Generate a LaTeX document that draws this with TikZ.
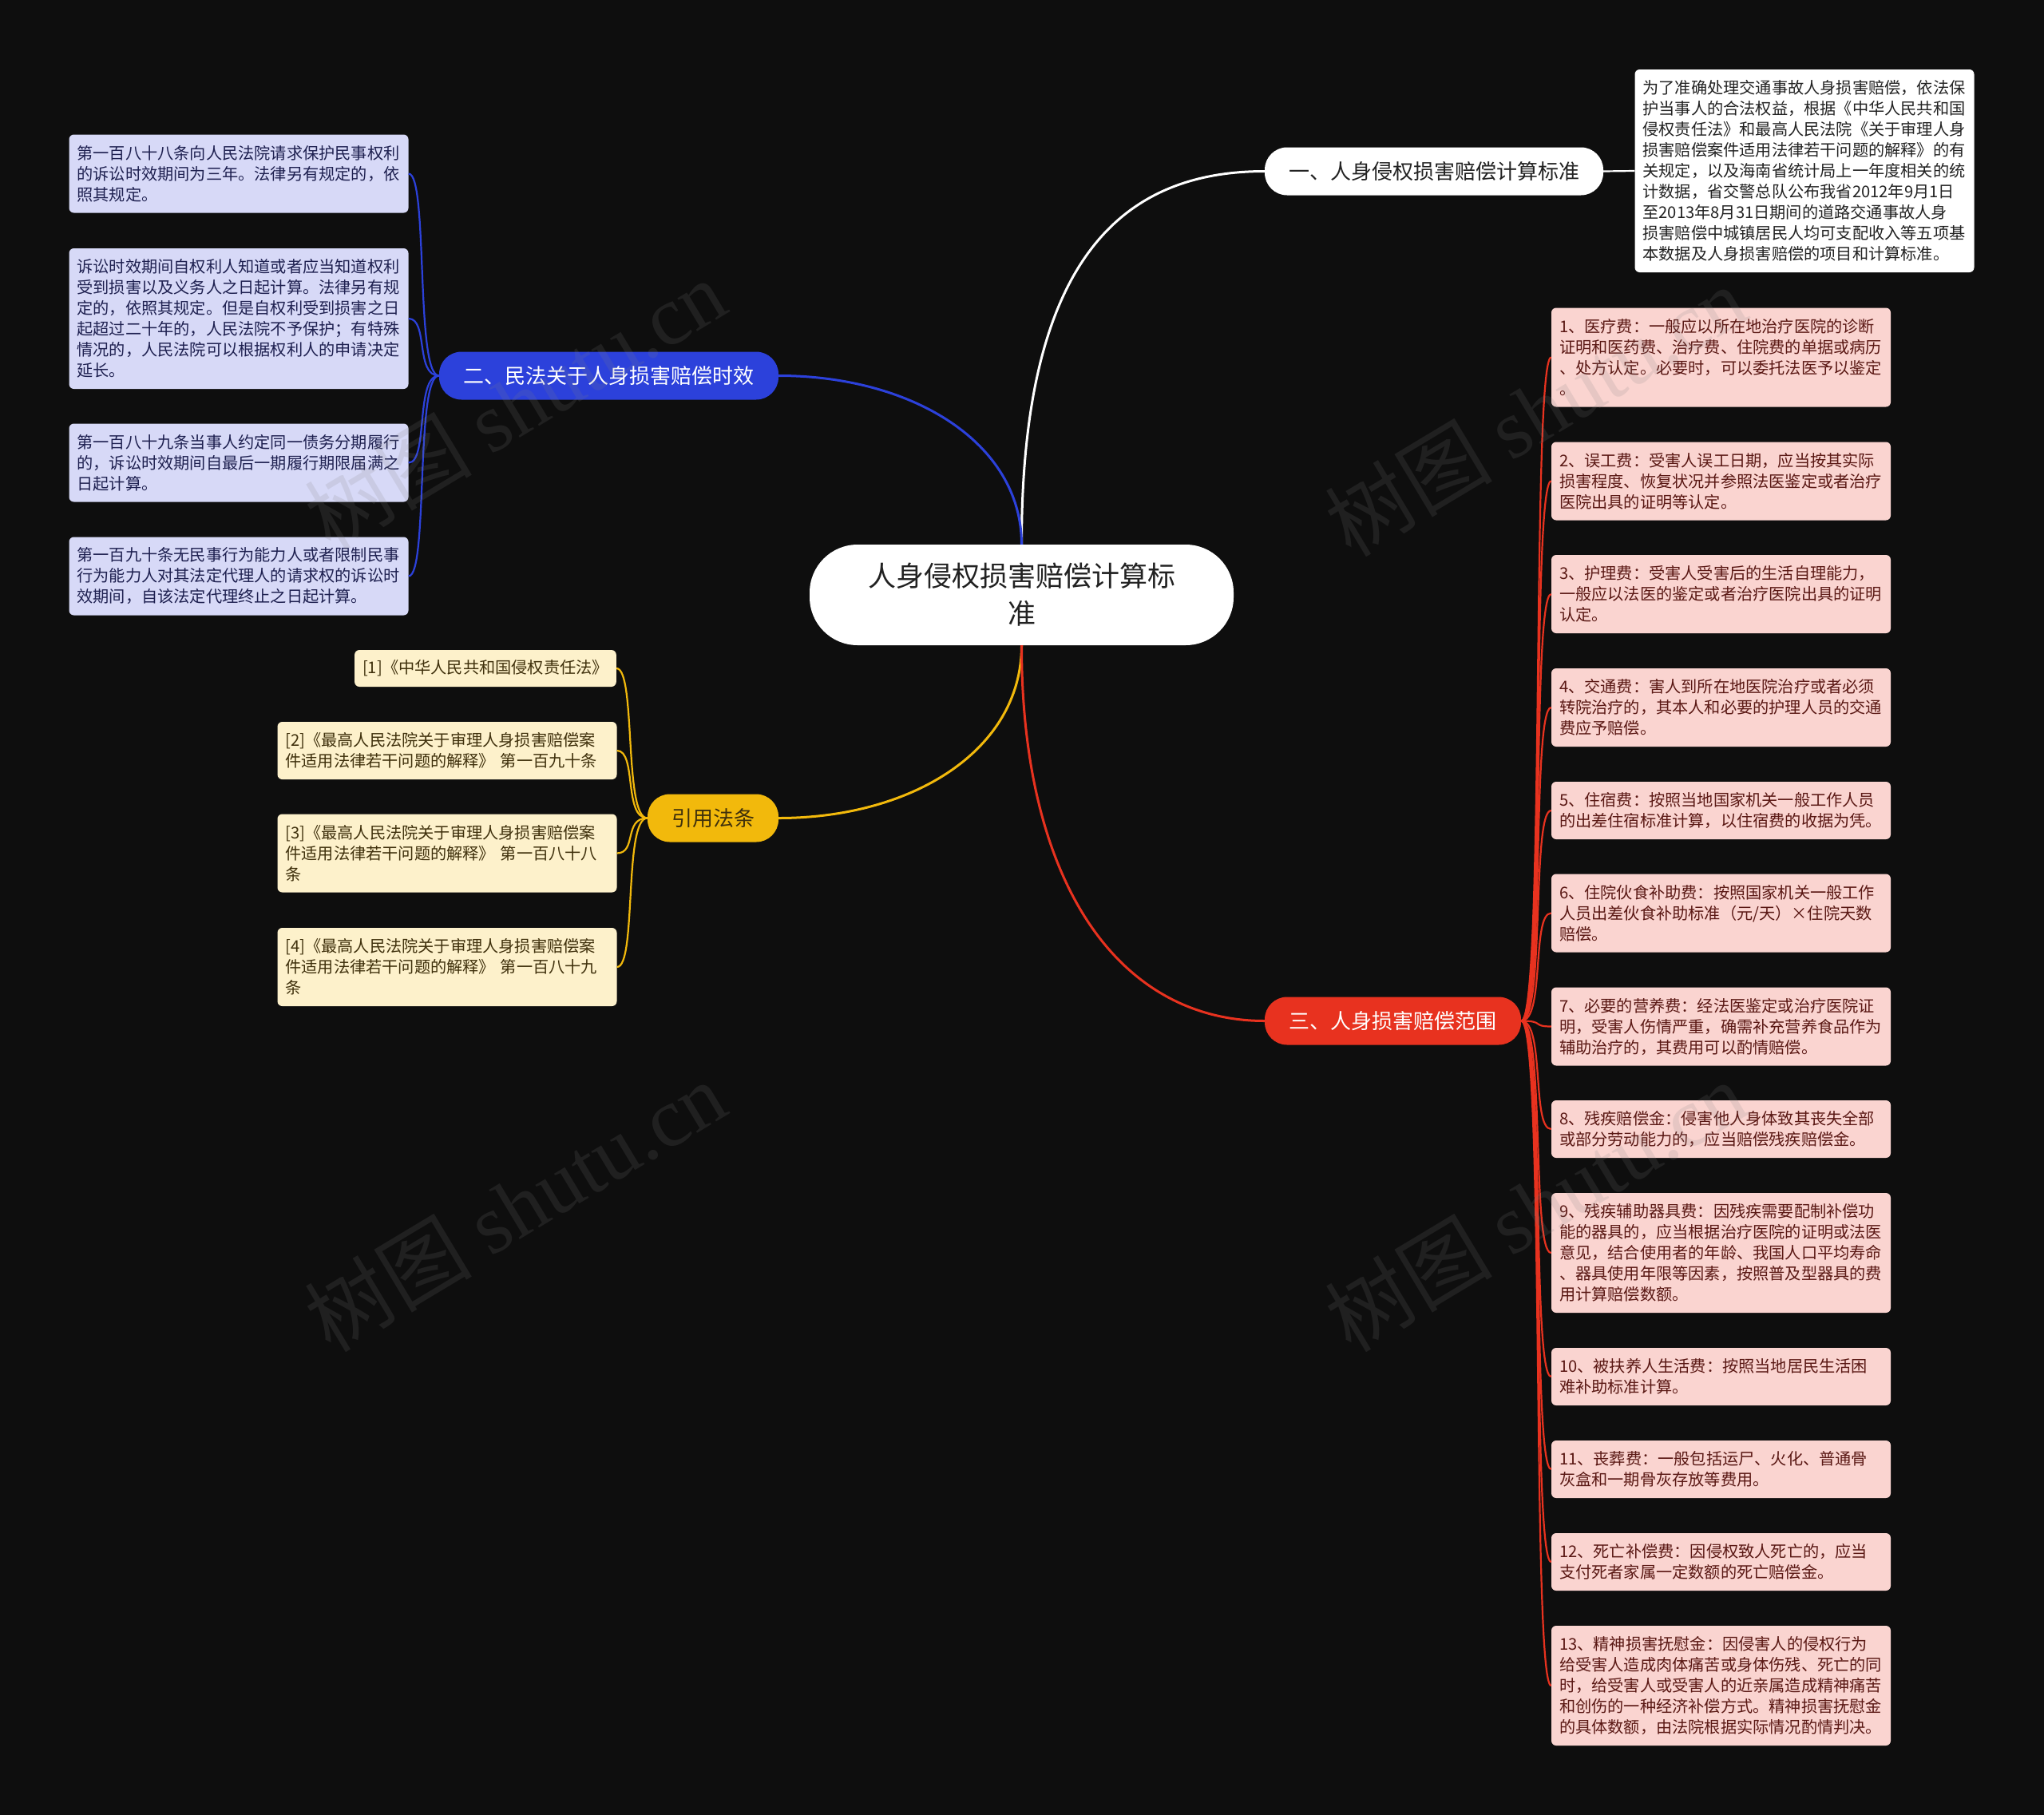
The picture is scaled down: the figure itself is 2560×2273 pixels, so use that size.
\documentclass[tikz,border=0pt]{standalone}
\usepackage{fontspec}
\setmainfont{Noto Sans CJK SC}
\newfontfamily\wmlat{Liberation Serif}
\definecolor{bgc}{HTML}{0E0E0E}
\definecolor{bluec}{HTML}{2C41DB}
\definecolor{yelc}{HTML}{F2B90C}
\definecolor{redc}{HTML}{E8321F}
\definecolor{pinkf}{HTML}{FAD4D0}
\definecolor{pinkt}{HTML}{5A1814}
\definecolor{lavf}{HTML}{D7D9F7}
\definecolor{lavt}{HTML}{1E2050}
\definecolor{creamf}{HTML}{FDF1CB}
\definecolor{creamt}{HTML}{3F300C}
\definecolor{darkt}{HTML}{222222}
\newcommand\leaffont{\fontsize{20.2}{26}\selectfont}
\newcommand\pillfont{\fontsize{26}{32}\selectfont}
\newcommand\rootfont{\fontsize{35}{47}\selectfont}
\tikzset{
  leafbox/.style={rounded corners=6pt, inner xsep=10pt, inner ysep=0pt, text width=405pt, align=left, font=\leaffont},
  pinkbox/.style={leafbox, fill=pinkf, text=pinkt},
  lavbox/.style={leafbox, fill=lavf, text=lavt},
  creambox/.style={leafbox, fill=creamf, text=creamt},
  whitebox/.style={leafbox, fill=white, text=darkt},
  pill/.style={rounded corners=28pt, inner sep=0pt, minimum height=60pt, font=\pillfont, align=center},
  rootbox/.style={rounded corners=60pt, inner sep=0pt, fill=white, text=darkt, minimum width=531pt, minimum height=126pt, font=\rootfont, align=center},
  mainline/.style={line width=3pt},
  subline/.style={line width=2.2pt},
  wm/.style={text=gray, opacity=0.16, font=\fontsize{105}{110}\selectfont, rotate=31, inner sep=0pt}
}
\begin{document}
\begin{tikzpicture}[x=1pt,y=-1pt]
\path[fill=bgc] (0,0) rectangle (2560,2273);
\useasboundingbox (0,0) rectangle (2560,2273);

% root and branches
\node[rootbox] (root) at (1279.5,745) {人身侵权损害赔偿计算标\\准};
\node[pill, fill=white, text=darkt, minimum width=424pt] (one) at (1796,214.5) {一、人身侵权损害赔偿计算标准};
\node[pill, fill=bluec, text=white, minimum width=425pt] (two) at (762.5,470.5) {二、民法关于人身损害赔偿时效};
\node[pill, fill=yelc, text=creamt, minimum width=164pt] (cite) at (893,1024.5) {引用法条};
\node[pill, fill=redc, text=white, minimum width=321pt] (three) at (1744.5,1278.5) {三、人身损害赔偿范围};

% top right
\node[whitebox, minimum height=254pt] (tr) at (2260,214) {为了准确处理交通事故人身损害赔偿，依法保\\护当事人的合法权益，根据《中华人民共和国\\侵权责任法》和最高人民法院《关于审理人身\\损害赔偿案件适用法律若干问题的解释》的有\\关规定，以及海南省统计局上一年度相关的统\\计数据，省交警总队公布我省2012年9月1日\\至2013年8月31日期间的道路交通事故人身\\损害赔偿中城镇居民人均可支配收入等五项基\\本数据及人身损害赔偿的项目和计算标准。};

% blue leaves
\node[lavbox, minimum height=98pt] (b1) at (299,217.5) {第一百八十八条向人民法院请求保护民事权利\\的诉讼时效期间为三年。法律另有规定的，依\\照其规定。};
\node[lavbox, minimum height=176pt] (b2) at (299,399) {诉讼时效期间自权利人知道或者应当知道权利\\受到损害以及义务人之日起计算。法律另有规\\定的，依照其规定。但是自权利受到损害之日\\起超过二十年的，人民法院不予保护；有特殊\\情况的，人民法院可以根据权利人的申请决定\\延长。};
\node[lavbox, minimum height=98pt] (b3) at (299,579.5) {第一百八十九条当事人约定同一债务分期履行\\的，诉讼时效期间自最后一期履行期限届满之\\日起计算。};
\node[lavbox, minimum height=98pt] (b4) at (299,721.5) {第一百九十条无民事行为能力人或者限制民事\\行为能力人对其法定代理人的请求权的诉讼时\\效期间，自该法定代理终止之日起计算。};

% yellow leaves
\node[creambox, text width=, minimum height=46pt, anchor=east] (y1) at (772,837) {[1]《中华人民共和国侵权责任法》};
\node[creambox, minimum height=72pt] (y2) at (560,940) {[2]《最高人民法院关于审理人身损害赔偿案\\件适用法律若干问题的解释》 第一百九十条};
\node[creambox, minimum height=98pt] (y3) at (560,1068.5) {[3]《最高人民法院关于审理人身损害赔偿案\\件适用法律若干问题的解释》 第一百八十八\\条};
\node[creambox, minimum height=98pt] (y4) at (560,1211) {[4]《最高人民法院关于审理人身损害赔偿案\\件适用法律若干问题的解释》 第一百八十九\\条};

% red leaves
\node[pinkbox, minimum height=124pt] (r1) at (2155.5,447.5) {1、医疗费：一般应以所在地治疗医院的诊断\\证明和医药费、治疗费、住院费的单据或病历\\、处方认定。必要时，可以委托法医予以鉴定\\。};
\node[pinkbox, minimum height=98pt] (r2) at (2155.5,602.5) {2、误工费：受害人误工日期，应当按其实际\\损害程度、恢复状况并参照法医鉴定或者治疗\\医院出具的证明等认定。};
\node[pinkbox, minimum height=98pt] (r3) at (2155.5,744) {3、护理费：受害人受害后的生活自理能力，\\一般应以法医的鉴定或者治疗医院出具的证明\\认定。};
\node[pinkbox, minimum height=98pt] (r4) at (2155.5,886) {4、交通费：害人到所在地医院治疗或者必须\\转院治疗的，其本人和必要的护理人员的交通\\费应予赔偿。};
\node[pinkbox, minimum height=72pt] (r5) at (2155.5,1015) {5、住宿费：按照当地国家机关一般工作人员\\的出差住宿标准计算，以住宿费的收据为凭。};
\node[pinkbox, minimum height=98pt] (r6) at (2155.5,1143.5) {6、住院伙食补助费：按照国家机关一般工作\\人员出差伙食补助标准（元/天）×住院天数\\赔偿。};
\node[pinkbox, minimum height=98pt] (r7) at (2155.5,1285.5) {7、必要的营养费：经法医鉴定或治疗医院证\\明，受害人伤情严重，确需补充营养食品作为\\辅助治疗的，其费用可以酌情赔偿。};
\node[pinkbox, minimum height=72pt] (r8) at (2155.5,1414) {8、残疾赔偿金：侵害他人身体致其丧失全部\\或部分劳动能力的，应当赔偿残疾赔偿金。};
\node[pinkbox, minimum height=150pt] (r9) at (2155.5,1569) {9、残疾辅助器具费：因残疾需要配制补偿功\\能的器具的，应当根据治疗医院的证明或法医\\意见，结合使用者的年龄、我国人口平均寿命\\、器具使用年限等因素，按照普及型器具的费\\用计算赔偿数额。};
\node[pinkbox, minimum height=72pt] (r10) at (2155.5,1724) {10、被扶养人生活费：按照当地居民生活困\\难补助标准计算。};
\node[pinkbox, minimum height=72pt] (r11) at (2155.5,1840) {11、丧葬费：一般包括运尸、火化、普通骨\\灰盒和一期骨灰存放等费用。};
\node[pinkbox, minimum height=72pt] (r12) at (2155.5,1956) {12、死亡补偿费：因侵权致人死亡的，应当\\支付死者家属一定数额的死亡赔偿金。};
\node[pinkbox, minimum height=150pt] (r13) at (2155.5,2111) {13、精神损害抚慰金：因侵害人的侵权行为\\给受害人造成肉体痛苦或身体伤残、死亡的同\\时，给受害人或受害人的近亲属造成精神痛苦\\和创伤的一种经济补偿方式。精神损害抚慰金\\的具体数额，由法院根据实际情况酌情判决。};

% main connectors
\draw[mainline, white] (root.north) .. controls +(0,-355) and +(-180,0) .. (one.west);
\draw[mainline, bluec] (root.north) .. controls +(0,-127) and +(168,0) .. (two.east);
\draw[mainline, yelc] (root.south) .. controls +(0,131) and +(168,0) .. (cite.east);
\draw[mainline, redc] (root.south) .. controls +(0,302) and +(-180,0) .. (three.west);
\draw[subline, white] (one.east) -- (tr.west);

% blue connectors
\foreach \n in {b1,b2,b3,b4}
  \draw[subline, bluec] (two.west) .. controls +(-30,0) and +(25,0) .. (\n.east);
% yellow connectors
\foreach \n in {y1,y2,y3,y4}
  \draw[subline, yelc] (cite.west) .. controls +(-30,0) and +(25,0) .. (\n.east);
% red connectors
\foreach \n in {r1,r2,r3,r4,r5,r6,r7,r8,r9,r10,r11,r12,r13}
  \draw[subline, redc] (three.east) .. controls +(30,0) and +(-25,0) .. (\n.west);

% watermarks
\node[wm] (wm1) at (645,506) {树图 {\wmlat shutu.cn}};
\node[wm] (wm2) at (645,1510) {树图 {\wmlat shutu.cn}};
\node[wm] (wm3) at (1923,514) {树图 {\wmlat shutu.cn}};
\node[wm] (wm4) at (1923,1510) {树图 {\wmlat shutu.cn}};
\end{tikzpicture}
\end{document}
